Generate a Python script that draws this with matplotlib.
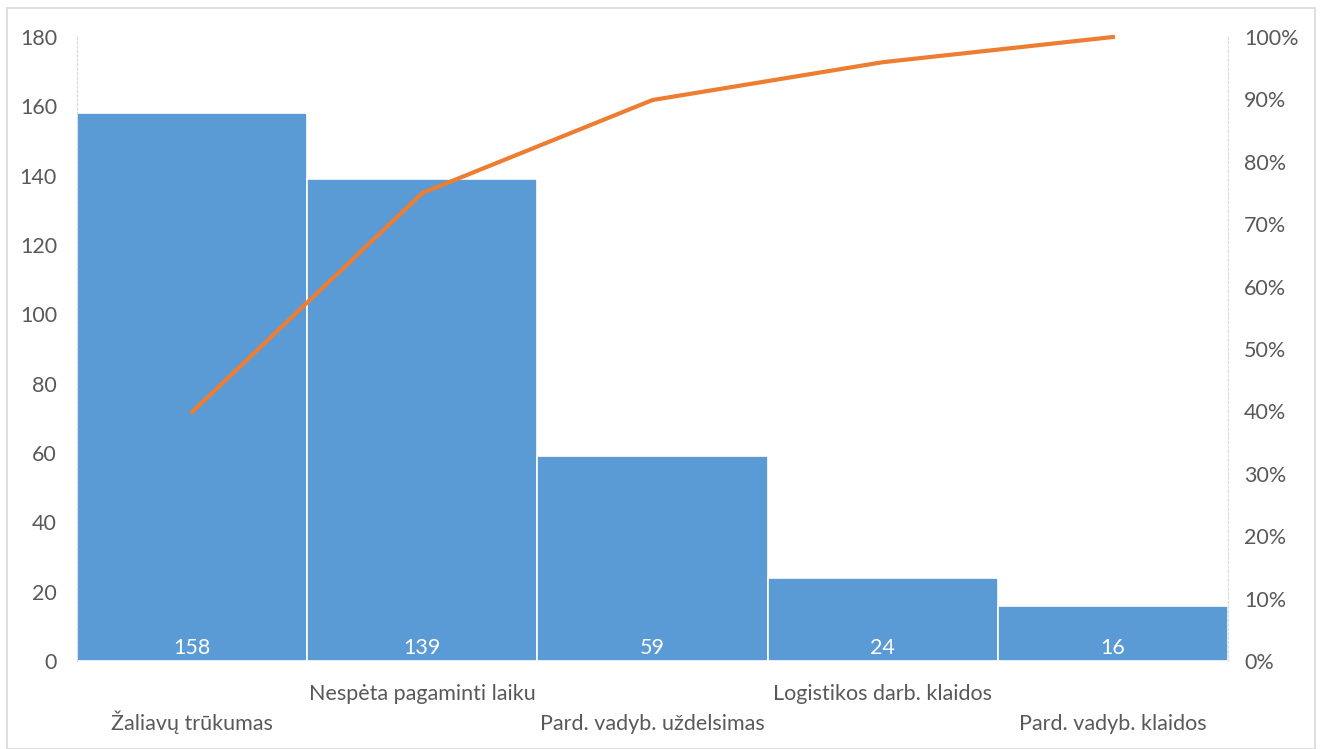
import matplotlib
matplotlib.use("Agg")
import matplotlib.pyplot as plt
from matplotlib.patches import Rectangle
import numpy as np

# data
categories = ["Žaliavų trūkumas", "Nespėta pagaminti laiku", "Pard. vadyb. uždelsimas",
              "Logistikos darb. klaidos", "Pard. vadyb. klaidos"]
counts = [158, 139, 59, 24, 16]

cum_pct = np.cumsum(counts) / np.sum(counts) * 100

plt.rcParams['font.family'] = ['Lato', 'DejaVu Sans']
txt_color = '#595959'
fs = 15.5

fig = plt.figure(figsize=(13.23, 7.49), dpi=100)
ax = fig.add_axes([77/1323, 1 - 661/749, (1228 - 77)/1323, (661 - 37)/749])

x = np.arange(len(counts))
ax.bar(x, counts, width=1.0, color='#5B9BD5', edgecolor='white', linewidth=1.2, zorder=2)
ax.set_xlim(-0.5, len(counts) - 0.5)
ax.set_ylim(0, 180)
ax.set_yticks(np.arange(0, 181, 20))
ax.set_xticks([])
# pad is in points: 20 px -> 14.4 pt
ax.tick_params(axis='y', length=0, labelsize=fs, labelcolor=txt_color, pad=14.4)

for s in ['top', 'right', 'bottom']:
    ax.spines[s].set_visible(False)
ax.spines['left'].set_color('#d9d9d9')
ax.spines['left'].set_linestyle((0, (2, 2)))

# value labels inside bars
for xi, v in zip(x, counts):
    ax.annotate(str(v), xy=(xi, 0), xycoords='data',
                xytext=(0, 7), textcoords='offset pixels',
                ha='center', va='baseline', color='white', fontsize=fs)

# staggered category labels
for i, c in enumerate(categories):
    yoff = -39 if i % 2 else -69
    ax.annotate(c, xy=(i, 0), xycoords=('data', 'axes fraction'),
                xytext=(0, yoff), textcoords='offset pixels',
                ha='center', va='baseline', fontsize=fs, color=txt_color)

ax2 = ax.twinx()
ax2.plot(x, cum_pct, color='#ED7D31', linewidth=3.0, zorder=3, clip_on=False)
ax2.set_ylim(0, 100)
ax2.set_yticks(np.arange(0, 101, 10))
ax2.set_yticklabels([f'{t}%' for t in range(0, 101, 10)])
ax2.tick_params(axis='y', length=0, labelsize=fs, labelcolor=txt_color, pad=11.5)
for s in ['top', 'left', 'bottom']:
    ax2.spines[s].set_visible(False)
ax2.spines['right'].set_color('#d9d9d9')
ax2.spines['right'].set_linestyle((0, (2, 2)))

# light frame around the chart
fig.patches.append(Rectangle((7/1323, 0), (1315 - 7)/1323, 1 - 8/749,
                             transform=fig.transFigure, fill=False,
                             edgecolor='#d9d9d9', linewidth=1.2))

fig.savefig("out.png", dpi=100, facecolor='white')
